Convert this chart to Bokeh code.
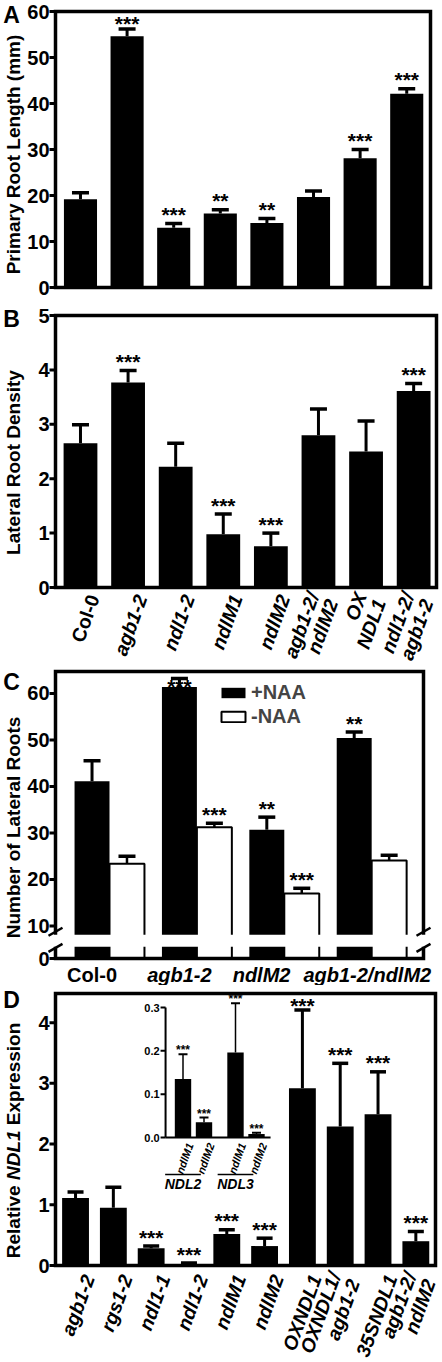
import math
from bokeh.plotting import figure
from bokeh.layouts import column
from bokeh.models import (Range1d, Whisker, TeeHead, ColumnDataSource,
                          Label, Legend, LegendItem)
from bokeh.core.properties import value
from bokeh.embed import file_html
from bokeh.resources import INLINE

FONT = "Liberation Sans"

# ---------------- data ----------------
ab_genotypes = ["Col-0", "agb1-2", "ndl1-2", "ndlM1", "ndlM2",
                "agb1-2/ndlM2", "OX NDL1", "ndl1-2/agb1-2"]
ab_tick_labels = ["Col-0", "agb1-2", "ndl1-2", "ndlM1", "ndlM2",
                  "agb1-2/\nndlM2", "OX\nNDL1", "ndl1-2/\nagb1-2"]

a_length = [19.2, 54.6, 13.0, 16.1, 14.0, 19.7, 28.1, 42.1]
a_length_err = [1.4, 1.6, 0.9, 0.8, 1.0, 1.3, 1.9, 1.1]
a_sig = ["", "***", "***", "**", "**", "", "***", "***"]
a_yticks = [0, 10, 20, 30, 40, 50, 60]

b_density = [2.65, 3.77, 2.22, 0.98, 0.76, 2.80, 2.50, 3.61]
b_density_err = [0.34, 0.22, 0.43, 0.37, 0.24, 0.48, 0.56, 0.14]
b_sig = ["", "***", "", "***", "***", "", "", "***"]
b_yticks = [0, 1, 2, 3, 4, 5]

c_groups = ["Col-0", "agb1-2", "ndlM2", "agb1-2/ndlM2"]
c_plus = [41.1, 61.4, 30.7, 50.4]
c_plus_err = [4.4, 1.8, 2.7, 1.3]
c_plus_sig = ["", "***", "**", "**"]
c_minus = [23.4, 31.2, 17.0, 24.1]
c_minus_err = [1.6, 0.9, 1.1, 1.1]
c_minus_sig = ["", "***", "***", ""]
c_yticks = [0, 10, 20, 30, 40, 50, 60]
c_series = ["+NAA", "-NAA"]

d_genotypes = ["agb1-2", "rgs1-2", "ndl1-1", "ndl1-2", "ndlM1", "ndlM2",
               "OXNDL1", "OXNDL1/\nagb1-2", "35SNDL1", "agb1-2/\nndlM2"]
d_expr = [1.11, 0.95, 0.285, 0.025, 0.52, 0.32, 2.92, 2.29, 2.49, 0.40]
d_expr_err = [0.10, 0.34, 0.035, 0.015, 0.07, 0.13, 1.29, 1.04, 0.70, 0.16]
d_sig = ["", "", "***", "***", "***", "***", "***", "***", "***", "***"]
d_yticks = [0, 1, 2, 3, 4]

inset_gene = ["NDL2", "NDL2", "NDL3", "NDL3"]
inset_line = ["ndlM1", "ndlM2", "ndlM1", "ndlM2"]
inset_expr = [0.135, 0.035, 0.196, 0.008]
inset_err = [0.057, 0.011, 0.114, 0.003]
inset_sig = ["***", "***", "***", "***"]
inset_yticks = [0.0, 0.1, 0.2, 0.3]

# ---------------- helpers ----------------
PAGE_W = 442


class Panel:
    """A figure whose drawing area is the whole canvas; the chart frame is
    defined by (fl, fr, ft, fb) in page pixels and the data ranges xr, yr."""

    def __init__(self, top, height, fl, fr, ft, fb, xr, yr):
        self.top, self.height = top, height
        self.fl, self.fr, self.ft, self.fb = fl, fr, ft, fb
        self.xr, self.yr = xr, yr
        p = figure(width=PAGE_W, height=height,
                   x_range=Range1d(self.X(0), self.X(PAGE_W)),
                   y_range=Range1d(self.Y(top + height), self.Y(top)),
                   output_backend="svg", toolbar_location=None,
                   x_axis_location=None, y_axis_location=None,
                   min_border=0, min_border_left=0, min_border_right=0,
                   min_border_top=0, min_border_bottom=0)
        p.grid.visible = False
        p.outline_line_color = None
        p.background_fill_color = "white"
        p.border_fill_color = "white"
        self.p = p

    def dx(self, px):
        return px * (self.xr[1] - self.xr[0]) / (self.fr - self.fl)

    def dy(self, px):
        return px * (self.yr[1] - self.yr[0]) / (self.fb - self.ft)

    def X(self, page_x):
        return self.xr[0] + self.dx(page_x - self.fl)

    def Y(self, page_y):
        return self.yr[1] - self.dy(page_y - self.ft)

    def frame(self):
        self.p.quad(left=self.xr[0], right=self.xr[1], bottom=self.yr[0], top=self.yr[1],
                    fill_color=None, line_color="black", line_width=3.5,
                    line_join="miter")

    def yaxis(self, ticks, labels):
        n = len(ticks)
        x0 = self.xr[0]
        self.p.segment(x0=[x0 - self.dx(6)] * n, y0=ticks, x1=[x0] * n, y1=ticks,
                       line_color="black", line_width=3)
        self.p.text(x=[x0 - self.dx(6)] * n, y=ticks, text=labels, text_font=value(FONT),
                    text_font_style="bold", text_font_size="20px", text_align="right",
                    text_baseline="middle", text_color="black")

    def star_y(self, hi, up=9, max_below_top=12):
        # star baseline: `up` px above the error cap, never higher than
        # `max_below_top` px below the frame's top edge
        return [min(h + self.dy(up), self.yr[1] - self.dy(max_below_top)) for h in hi]


def label(p, x, y, text, size, style="bold", angle=0.0, align="center",
          baseline="middle", **kw):
    p.add_layout(Label(x=x, y=y, text=text, text_font=FONT, text_font_size=f"{size}px",
                       text_font_style=style, text_color="black", angle=angle,
                       text_align=align, text_baseline=baseline, **kw))


def add_err(p, xs, lo, hi, lw=3, cap=16, cap_lw=3.5, **rng):
    src = ColumnDataSource(dict(x=list(xs), lo=list(lo), hi=list(hi)))
    p.add_layout(Whisker(source=src, base="x", lower="lo", upper="hi", dimension="height",
                         line_color="black", line_width=lw, lower_head=None,
                         upper_head=TeeHead(size=cap, line_width=cap_lw, line_color="black"),
                         level="overlay", **rng))


def add_stars(p, xs, ys, sig, size=21, **rng):
    src = ColumnDataSource(dict(x=list(xs), y=list(ys), t=list(sig)))
    p.text(x="x", y="y", text="t", source=src, text_font=value(FONT),
           text_font_style="bold", text_font_size=f"{size}px", text_align="center",
           text_baseline="alphabetic", text_color="black", **rng)


def label_style(name):
    return "bold" if name == "Col-0" else "bold italic"


ROT = math.radians(70)
XLAB_SIZE = 19.5


def rotated_xlabels(P, labels, below_px):
    for i, lab in enumerate(labels):
        two = "\n" in lab
        label(P.p, i + P.dx(4 if two else 13), -P.dy(below_px + (1 if two else 0)), lab,
              XLAB_SIZE, style=label_style(lab), angle=ROT, align="right",
              text_line_height=0.92)


# ---------------- Panel A ----------------
A = Panel(0, 300, 55, 430, 11, 287, (-0.536, 7.51), (0, 60))
pa = A.p
xa = list(range(len(ab_genotypes)))
pa.vbar(x=xa, top=a_length, bottom=0, width=0.71, fill_color="black", line_color=None)
A.frame()
A.yaxis(a_yticks, [str(t) for t in a_yticks])
hi_a = [v + e for v, e in zip(a_length, a_length_err)]
add_err(pa, xa, a_length, hi_a, cap=17)
add_stars(pa, xa, A.star_y(hi_a), a_sig)
label(pa, A.X(11), A.Y(14), "A", 23)
label(pa, A.X(13), A.Y(154), "Primary Root Length (mm)", 19, angle=math.pi / 2)

# ---------------- Panel B ----------------
B = Panel(300, 364, 55, 436, 315, 587, (-0.525, 7.48), (0, 5))
pb = B.p
pb.vbar(x=xa, top=b_density, bottom=0, width=0.71, fill_color="black", line_color=None)
B.frame()
B.yaxis(b_yticks, [str(t) for t in b_yticks])
hi_b = [v + e for v, e in zip(b_density, b_density_err)]
add_err(pb, xa, b_density, hi_b, cap=17)
add_stars(pb, xa, B.star_y(hi_b), b_sig)
rotated_xlabels(B, ab_tick_labels, 8)
label(pb, B.X(11), B.Y(318), "B", 23)
label(pb, B.X(13), B.Y(462), "Lateral Root Density", 19, angle=math.pi / 2)

# ---------------- Panel C (broken axis) ----------------
AX0 = 3.0        # display position of the axis origin (below the break)
BREAK_LO, BREAK_HI = 5.5, 8.1
C = Panel(664, 321, 55, 423, 671, 958, (-0.618, 3.593), (AX0, 64.72))
pc = C.p
xcg = list(range(len(c_groups)))
xb = [i - 0.2 for i in xcg]
xw = [i + 0.2 for i in xcg]
rb = pc.vbar(x=xb, top=c_plus, bottom=AX0, width=0.4, fill_color="black", line_color=None)
rw = pc.vbar(x=xw, top=c_minus, bottom=AX0, width=0.4, fill_color="white",
             line_color="black", line_width=2)
C.frame()
c_tick_pos = [AX0] + c_yticks[1:]
C.yaxis(c_tick_pos, [str(t) for t in c_yticks])
pc.quad(left=C.xr[0] - C.dx(3), right=C.xr[1] + C.dx(3), bottom=BREAK_LO, top=BREAK_HI,
        fill_color="white", line_color=None)
for xe in (C.xr[0], C.xr[1]):
    for yc in (BREAK_HI + C.dy(3), BREAK_LO - C.dy(1)):
        pc.segment(x0=xe - C.dx(7), y0=yc - C.dy(4), x1=xe + C.dx(7), y1=yc + C.dy(4),
                   line_color="black", line_width=2.5)
hi_cp = [v + e for v, e in zip(c_plus, c_plus_err)]
hi_cm = [v + e for v, e in zip(c_minus, c_minus_err)]
add_err(pc, xb, c_plus, hi_cp, cap=17)
add_err(pc, xw, c_minus, hi_cm, lw=2.5, cap=17)
add_stars(pc, xb, C.star_y(hi_cp, max_below_top=15), c_plus_sig)
add_stars(pc, xw, C.star_y(hi_cm, max_below_top=15), c_minus_sig)
C_LABEL_DX = [-0.2, -0.2, -0.26, -0.05]   # label placement under each group
for i, g in enumerate(c_groups):
    label(pc, i + C_LABEL_DX[i], C.Y(974), g, 20, style=label_style(g))
legend = Legend(items=[LegendItem(label=c_series[0], renderers=[rb]),
                       LegendItem(label=c_series[1], renderers=[rw])],
                location=(218, 257), glyph_width=30, glyph_height=13, label_standoff=3,
                spacing=1, padding=0, margin=0, border_line_color=None,
                background_fill_alpha=0, label_text_font=FONT,
                label_text_font_style="bold", label_text_font_size="20px")
pc.add_layout(legend)
label(pc, C.X(11), C.Y(681), "C", 23)
label(pc, C.X(13), C.Y(827), "Number of Lateral Roots", 19, angle=math.pi / 2)

# ---------------- Panel D ----------------
D = Panel(985, 377, 55, 435, 993, 1265, (-0.53, 9.52), (0, 4.48))
pd = D.p
xd = list(range(len(d_genotypes)))
pd.vbar(x=xd, top=d_expr, bottom=0, width=0.71, fill_color="black", line_color=None)
D.frame()
D.yaxis(d_yticks, [str(t) for t in d_yticks])
hi_d = [v + e for v, e in zip(d_expr, d_expr_err)]
add_err(pd, xd, d_expr, hi_d, cap=16)
add_stars(pd, xd, D.star_y(hi_d), d_sig)
rotated_xlabels(D, d_genotypes, 10)
label(pd, D.X(11), D.Y(999), "D", 23)
# y-axis label with italic gene name
ylab_parts = [("Relative", "bold", 72.9), ("NDL1", "bold italic", 49.6),
              ("Expression", "bold", 102.4)]
space_px = 5.3
total = sum(w for _, _, w in ylab_parts) + space_px * (len(ylab_parts) - 1)
ystart = 1140 + total / 2
for txt, sty, w in ylab_parts:
    label(pd, D.X(13), D.Y(ystart), txt, 19, style=sty, angle=math.pi / 2, align="left")
    ystart -= w + space_px

# inset (own scales via extra ranges)
INS_X0_PX, INS_XUNIT_PX = 182.5, 21.0
INS_Y0_PX, INS_YUNIT_PX = 1137.0, 433.3
pd.extra_x_ranges = {"ix": Range1d((0 - INS_X0_PX) / INS_XUNIT_PX,
                                   (PAGE_W - INS_X0_PX) / INS_XUNIT_PX)}
pd.extra_y_ranges = {"iy": Range1d(-(D.top + D.height - INS_Y0_PX) / INS_YUNIT_PX,
                                   (INS_Y0_PX - D.top) / INS_YUNIT_PX)}
IR = dict(x_range_name="ix", y_range_name="iy")
genes = list(dict.fromkeys(inset_gene))
lines = list(dict.fromkeys(inset_line))
ipos = [genes.index(g) * 2.5 + lines.index(l) for g, l in zip(inset_gene, inset_line)]


def ipx(px):
    return px / INS_XUNIT_PX


def ipy(px):
    return px / INS_YUNIT_PX


ax_left = min(ipos) - 0.83
ax_right = max(ipos) + 0.67
pd.vbar(x=ipos, top=inset_expr, bottom=0, width=0.78, fill_color="black",
        line_color=None, **IR)
pd.segment(x0=[ax_left, ax_left], y0=[0, 0], x1=[ax_left, ax_right],
           y1=[inset_yticks[-1], 0], line_color="black", line_width=2, **IR)
pd.segment(x0=[ax_left - ipx(5)] * len(inset_yticks), y0=inset_yticks,
           x1=[ax_left] * len(inset_yticks), y1=inset_yticks,
           line_color="black", line_width=2, **IR)
pd.text(x=[ax_left - ipx(6)] * len(inset_yticks), y=inset_yticks,
        text=[f"{t:.1f}" for t in inset_yticks], text_font=value(FONT),
        text_font_style="bold", text_font_size="11px", text_align="right",
        text_baseline="middle", text_color="black", **IR)
hi_i = [v + e for v, e in zip(inset_expr, inset_err)]
add_err(pd, ipos, inset_expr, hi_i, lw=1.5, cap=9, cap_lw=2, **IR)
add_stars(pd, ipos, [h + ipy(4) for h in hi_i], inset_sig, size=12, **IR)
for x, l in zip(ipos, inset_line):
    label(pd, x + ipx(7), -ipy(6), l, 11, style="bold italic", angle=ROT,
          align="right", **IR)
for g in genes:
    gp = [x for x, gg in zip(ipos, inset_gene) if gg == g]
    mid = sum(gp) / len(gp) - 0.5
    pd.segment(x0=[mid - 0.85], y0=[-ipy(37)], x1=[mid + 0.85], y1=[-ipy(37)],
               line_color="black", line_width=1.5, **IR)
    label(pd, mid, -ipy(46), g, 14, style="bold italic", **IR)

layout = column(pa, pb, pc, pd, spacing=0)
open("out.html", "w").write(file_html(layout, INLINE))
